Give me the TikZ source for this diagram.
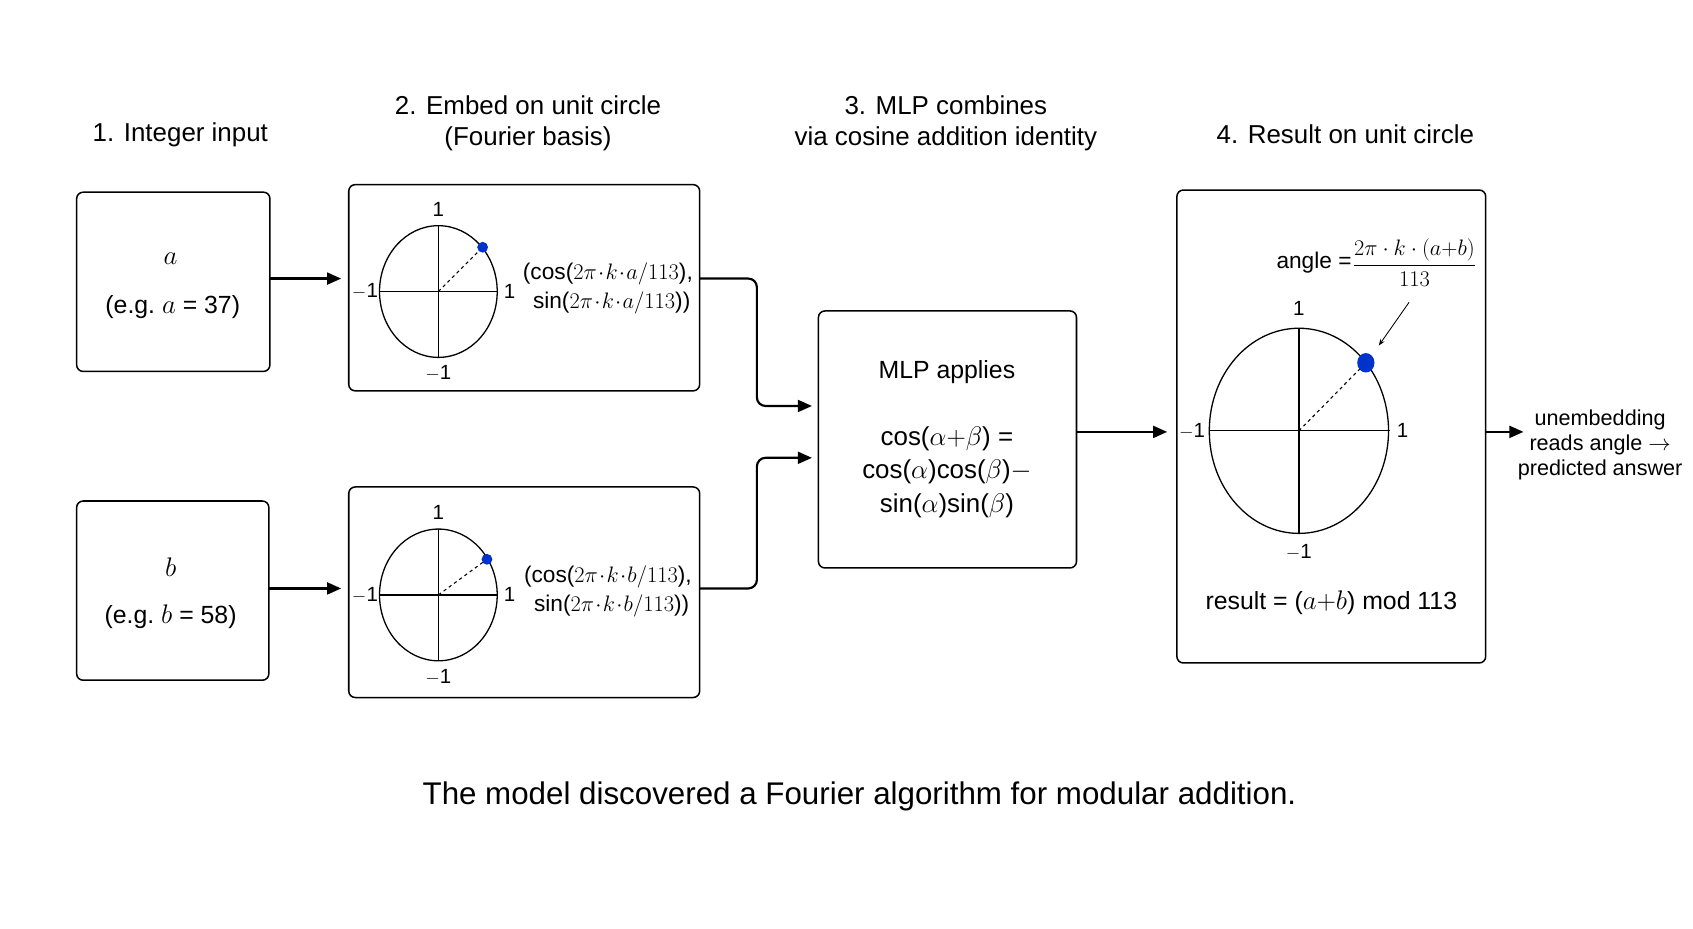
\documentclass[tikz,border=0pt]{standalone}
\usepackage{fontspec}
\setmainfont{Liberation Sans}
\usetikzlibrary{arrows.meta}
\newcommand{\fs}[1]{\fontsize{#1}{\numexpr#1*6/5\relax}\selectfont}
\begin{document}
\begin{tikzpicture}[x=1pt,y=-1pt,
  box/.style={draw,line width=1.4pt,rounded corners=6pt},
  ttl/.style={font=\fs{24}},
  txt/.style={font=\fs{23}},
  small/.style={font=\fs{19}},
  ax/.style={line width=1.2pt},
  arr/.style={line width=2pt,-{Triangle[length=13pt,width=11pt]}},
  dot/.style={fill=blue!75!cyan!80!black,draw=none}]
\useasboundingbox[fill=white] (0,0) rectangle (1568,860);
% titles
\node[ttl] (t1) at (167,125) {1. Integer input};
\node[ttl,align=center] (t2) at (489,114) {2. Embed on unit circle\\(Fourier basis)};
\node[ttl,align=center] (t3) at (876,114) {3. MLP combines\\via cosine addition identity};
\node[ttl] (t4) at (1246,124) {4. Result on unit circle};
% boxes
\draw[box] (71,178) rectangle (250,344);
\node[font=\fs{34}] (la) at (158,240) {$a$};
\node[txt] (ea) at (160,284) {(e.g.\ $a$ = 37)};
\draw[box] (71,464) rectangle (249,630);
\node[font=\fs{34}] (lb) at (158,525) {$b$};
\node[txt] (eb) at (158,571) {(e.g.\ $b$ = 58)};
% embedding boxes
\foreach \n/\yt/\yb/\cy/\dx/\dy/\v in {ea/171/362/270/41/-41/a, eb/451/646/551/45/-33/b}{
  \draw[box] (323,\yt) rectangle (648,\yb);
  \draw[ax] (406,\cy) ellipse (54.5 and 61);
  \draw[ax] (352,\cy) -- (461,\cy);
  \draw[ax] (406,\cy-61) -- (406,\cy+61);
  \draw[dashed,line width=1pt] (406,\cy) -- (406+\dx,\cy+\dy);
  \fill[dot] (406+\dx,\cy+\dy) circle (5);
  \node[small] at (406,\cy-76) {1};
  \node[small] at (406,\cy+76) {$-$1};
  \node[small] at (338,\cy) {$-$1};
  \node[small] at (472,\cy) {1};
  \node[font=\fs{21},align=left] at (563,\cy-3) {(cos($2\pi\!\cdot\! k\!\cdot\! \v/113$),\\[2pt]\ \,sin($2\pi\!\cdot\! k\!\cdot\! \v/113$))};
}
\coordinate (e1) at (648,258);
\coordinate (e2) at (648,545);
% MLP
\draw[box] (758,288) rectangle (997,526);
\node[txt] (mlp) at (877,345) {MLP applies};
\node[font=\fs{24},align=center] (f) at (877,437) {cos($\alpha{+}\beta$) =\\[2pt]cos($\alpha$)cos($\beta$)$-$\\[2pt]sin($\alpha$)sin($\beta$)};
% result box
\draw[box] (1090,176) rectangle (1376,614);
\draw[ax] (1203,399) ellipse (83 and 95);
\draw[ax] (1120,399) -- (1287,399);
\draw[ax] (1203,304) -- (1203,494);
\draw[dashed,line width=1pt] (1203,399) -- (1265,336);
\fill[dot] (1265,336) ellipse (8 and 9);
\node[small] at (1203,286) {1};
\node[small] at (1203,511) {$-$1};
\node[small] at (1104,399) {$-$1};
\node[small] at (1299,399) {1};
\node[font=\fs{21}] (ang) at (1217,243) {angle =};
\node[font=\fs{21}] (fr) at (1310,243) {$\displaystyle\frac{2\pi\cdot k\cdot(a{+}b)}{113}$};
\draw[-{Stealth[length=6pt]},line width=0.8pt] (1305,280) -- (1277,320);
\node[txt] (res) at (1233,558) {result = ($a{+}b$) mod 113};
\node[font=\fs{20},align=center] (out) at (1482,412) {unembedding\\[-1pt]reads angle $\rightarrow$\\[-1pt]predicted answer};
% arrows
\draw[arr] (250,258) -- (316,258);
\draw[arr] (249,545) -- (316,545);
\draw[arr,rounded corners=8pt] (e1) -- (701,258) -- (701,376) -- (752,376);
\draw[arr,rounded corners=8pt] (e2) -- (701,545) -- (701,424) -- (752,424);
\draw[arr] (997,400) -- (1081,400);
\draw[arr] (1376,400) -- (1411,400);
\node[font=\fs{29}] (cap) at (796,738) {The model discovered a Fourier algorithm for modular addition.};
\end{tikzpicture}
\end{document}
